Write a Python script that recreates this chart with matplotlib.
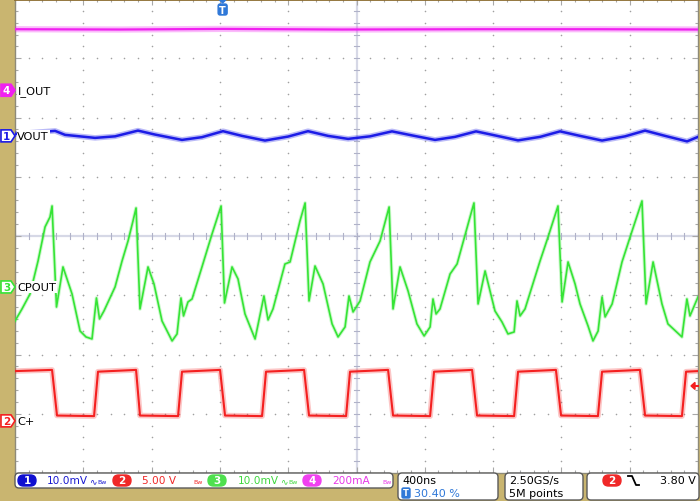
import numpy as np
import matplotlib
matplotlib.use("Agg")
import matplotlib.pyplot as plt
from matplotlib.patches import FancyBboxPatch, Polygon
from matplotlib.transforms import IdentityTransform

# ---- scope settings ----
t_div = 400.0            # ns/div
trig_pos = 0.304         # trigger position (fraction of screen)
ch_scale = {"1": 10.0, "2": 5.00, "3": 10.0, "4": 200.0}   # per div
ch_offset = {"1": 1.69, "2": -3.12, "3": -0.86, "4": 2.46}  # ground level, div
ch_name = {"1": "VOUT", "2": "C+", "3": "CPOUT", "4": "I_OUT"}
ch_color = {"1": "#1c1ce6", "2": "#f42020", "3": "#36e436", "4": "#f020f0"}

# ---- traces (time in ns) ----
# CH4 I_OUT, mA
iout_t = [-1216, -600, 0, 700, 1500, 2200, 2784]
iout_v = [206, 205, 207, 205, 206, 206, 205]

# CH1 VOUT ripple, mV
vout_t = [-1216, -981, -923, -747, -630, -496, -396, -238, -121, 2, 113, 248, 383,
          500, 617, 735, 863, 992, 1109, 1244, 1361, 1484, 1595, 1730, 1859, 1976,
          2093, 2222, 2357, 2474, 2591, 2720, 2784]
vout_v = [0.34, 0.84, 0.17, -0.34, -0.08, 0.89, 0.22, -0.68, -0.22, 0.79, 0.0, -0.79,
          -0.12, 0.79, 0.0, -0.51, -0.08, 0.76, 0.08, -0.68, -0.17, 0.76, 0.08, -0.76,
          -0.17, 0.76, 0.0, -0.79, -0.08, 0.89, 0.0, -0.93, -0.17]

# CH3 CPOUT ripple, mV
cp_t = [-1216, -1175, -1128, -1081, -1040, -1011, -999, -973, -935, -882, -835, -800,
        -765, -739, -721, -695, -630, -589, -554, -525, -507, -484, -437, -402, -355,
        -296, -267, -244, -229, -203, -179, -121, -62, -9, 11, 55, 90, 131, 190, 242,
        266, 295, 365, 395, 453, 483, 506, 541, 588, 641, 676, 717, 740, 764, 805, 863,
        922, 975, 998, 1039, 1086, 1138, 1180, 1215, 1232, 1250, 1273, 1332, 1373,
        1449, 1472, 1496, 1537, 1566, 1595, 1636, 1671, 1707, 1724, 1742, 1771, 1859,
        1906, 1964, 1988, 2023, 2064, 2093, 2140, 2169, 2199, 2222, 2240, 2281, 2339,
        2398, 2456, 2480, 2521, 2573, 2608, 2690, 2719, 2737, 2784]
cp_v = [-5.74, -3.71, -1.18, 4.39, 10.13, 11.81, 13.67, -3.38, 3.38, -1.18, -7.43,
        -8.44, -8.78, -1.86, -5.40, -4.05, 0.0, 4.39, 7.76, 11.14, 13.33, -3.71, 3.38,
        0.51, -5.74, -9.11, -7.93, -1.86, -4.89, -2.53, -2.03, 3.38, 8.95, 13.67,
        -2.70, 3.38, 1.35, -4.56, -8.78, -1.52, -5.57, -3.71, 3.88, 4.22, 11.14,
        14.18, -2.36, 3.54, 0.51, -6.24, -8.44, -6.75, -1.52, -4.22, -2.36, 4.22,
        7.76, 13.50, -3.71, 3.38, -0.68, -6.24, -8.27, -6.75, -2.03, -4.56, -3.71,
        2.19, 3.88, 11.81, 14.18, -2.87, 2.70, -0.68, -4.05, -5.91, -7.93, -7.60,
        -2.36, -4.89, -3.71, 4.39, 8.44, 13.67, -2.53, 4.22, 0.51, -2.87, -6.58,
        -9.11, -7.43, -1.69, -5.06, -2.87, 4.22, 9.45, 14.52, -2.87, 4.22, -2.87,
        -6.24, -8.44, -2.03, -4.89, -1.69]

# CH2 C+ switching node, V
cp_sw_t = [-1216, -999, -970, -753, -730, -507, -484, -261, -238, -15, 14, 231, 254,
           477, 506, 723, 746, 969, 998, 1215, 1238, 1461, 1490, 1707, 1730, 1952,
           1982, 2198, 2222, 2444, 2474, 2690, 2714, 2784]
cp_sw_v = [4.20, 4.30, 0.45, 0.40, 4.15, 4.30, 0.45, 0.40, 4.15, 4.30, 0.45, 0.40,
           4.15, 4.30, 0.45, 0.40, 4.15, 4.30, 0.45, 0.40, 4.15, 4.30, 0.45, 0.40,
           4.15, 4.30, 0.45, 0.40, 4.15, 4.30, 0.45, 0.40, 4.15, 4.20]
trig_arrow_v = 2.95

khaki = "#c9b570"
W, H = 700, 502

fig = plt.figure(figsize=(7, 5.02), dpi=100, facecolor=khaki)
ax = fig.add_axes([15 / W, 28 / H, 683 / W, 474 / H])
ax.set_facecolor("white")

x0 = -trig_pos * 10 * t_div
x1 = x0 + 10 * t_div
ax.set_xlim(x0, x1)
ax.set_ylim(-4, 4)

# graticule
xmaj = x0 + np.arange(11) * t_div
xmin = x0 + np.arange(51) * t_div / 5
ymaj = np.arange(-4, 5)
ymin = np.arange(-20, 21) / 5
xc = x0 + 5 * t_div
for xv in xmaj[1:-1]:
    if xv != xc:
        ax.scatter(np.full(len(ymin), xv), ymin, s=1.3, c="#a0a0a0", lw=0, zorder=1)
for yv in ymaj[1:-1]:
    if yv != 0:
        ax.scatter(xmin, np.full(len(xmin), yv), s=1.3, c="#a0a0a0", lw=0, zorder=1)
ax.axhline(0, color="#d6d8e6", lw=1.6, zorder=1)
ax.axvline(xc, color="#d6d8e6", lw=1.6, zorder=1)
for xv in xmin:
    ax.plot([xv, xv], [-0.05, 0.05], color="#b0b2c8", lw=0.8, zorder=1)
for yv in ymin:
    ax.plot([xc - 15, xc + 15], [yv, yv], color="#b0b2c8", lw=0.8, zorder=1)

ax.set_xticks(xmaj)
ax.set_xticks(xmin, minor=True)
ax.set_yticks(ymaj)
ax.set_yticks(ymin, minor=True)
ax.tick_params(which="both", direction="in", top=True, right=True,
               labelbottom=False, labelleft=False, color="#a8a8a8")
ax.tick_params(which="major", length=4, width=0.8)
ax.tick_params(which="minor", length=2.5, width=0.8)
for s in ["left", "right", "bottom"]:
    ax.spines[s].set_color("#8e8a78")
    ax.spines[s].set_linewidth(1)
ax.spines["top"].set_color("#8b6b2e")
ax.spines["top"].set_linewidth(2)


def screen(ch, vals):
    return ch_offset[ch] + np.asarray(vals, dtype=float) / ch_scale[ch]


traces = [("4", iout_t, iout_v, 4.5, 1.6, 0.3),
          ("1", vout_t, vout_v, 4.0, 1.8, 0.3),
          ("3", cp_t, cp_v, 2.6, 1.2, 0.25),
          ("2", cp_sw_t, cp_sw_v, 4.0, 1.5, 0.25)]
for ch, tt, vv, band, core, a in traces:
    y = screen(ch, vv)
    ax.plot(tt, y, color=ch_color[ch], lw=band, alpha=a, zorder=3,
            solid_joinstyle="round")
    ax.plot(tt, y, color=ch_color[ch], lw=core, zorder=4)

# channel labels + ground markers
fig.canvas.draw()
for ch in ["4", "1", "3", "2"]:
    ax.text(0.0035, ch_offset[ch], ch_name[ch], transform=ax.get_yaxis_transform(),
            va="center", ha="left", fontsize=8.2, color="black", zorder=6,
            bbox=dict(boxstyle="square,pad=0.05", fc="white", ec="none"))
    gy = ax.transData.transform((0, ch_offset[ch]))[1]
    filled = ch == "4"
    poly = Polygon([(1, gy - 6), (11, gy - 6), (15, gy), (11, gy + 6), (1, gy + 6)],
                   closed=True, transform=IdentityTransform(),
                   fc=ch_color[ch] if filled else "white", ec=ch_color[ch], lw=1.2)
    fig.add_artist(poly)
    fig.text(6.5, gy, ch, transform=IdentityTransform(), ha="center", va="center",
             fontsize=7.5, fontweight="bold",
             color="white" if filled else ch_color[ch])

# trigger time marker (top)
tx, ty = ax.transData.transform((0, 4))
tcol = "#2f78d8"
fig.add_artist(Polygon([(tx - 4, ty), (tx + 4, ty), (tx, ty - 4)], closed=True,
                       transform=IdentityTransform(), fc=tcol, ec=tcol))
fig.add_artist(FancyBboxPatch((tx - 4.5, ty - 16), 9, 11,
                              boxstyle="round,pad=0,rounding_size=2",
                              transform=IdentityTransform(), fc=tcol, ec=tcol))
fig.text(tx, ty - 10.5, "T", transform=IdentityTransform(), ha="center", va="center",
         fontsize=7, fontweight="bold", color="white")

# trigger level arrow (right)
lx, ly = ax.transData.transform((x1, screen("2", [trig_arrow_v])[0]))
fig.add_artist(Polygon([(lx - 7, ly), (lx - 3, ly + 3.5), (lx - 3, ly - 3.5)],
                       closed=True, transform=IdentityTransform(),
                       fc=ch_color["2"], ec=ch_color["2"]))
fig.add_artist(plt.Line2D([lx - 3, lx], [ly, ly], transform=IdentityTransform(),
                          color=ch_color["2"], lw=1.5))


# ---- status bar ----
def box(xa, ya, xb, yb):
    fig.add_artist(FancyBboxPatch((xa, H - yb), xb - xa, yb - ya,
                                  boxstyle="round,pad=0,rounding_size=4",
                                  transform=IdentityTransform(), fc="white",
                                  ec="#5a5a5a", lw=1))


def badge(xa, xb, yc, txt, col):
    fig.add_artist(FancyBboxPatch((xa, H - yc - 5.5), xb - xa, 11,
                                  boxstyle="round,pad=0,rounding_size=5.5",
                                  transform=IdentityTransform(), fc=col, ec=col))
    fig.text((xa + xb) / 2, H - yc, txt, transform=IdentityTransform(), ha="center",
             va="center", fontsize=7.5, fontweight="bold", color="white")


def stext(x, y, s, col, size=8, ha="left"):
    fig.text(x, H - y, s, transform=IdentityTransform(), ha=ha, va="center",
             fontsize=size, color=col)


box(15, 474, 393, 489)
box(398, 474, 498, 501)
box(505, 474, 583, 501)
box(587, 474, 699, 501)

row = 481.5
badge(18, 36, row, "1", "#1010d0")
stext(47, row, "10.0mV", "#1a1ad0", size=7.6)
stext(89, row, "\u223f", "#1a1ad0", size=6.5)
stext(97, row + 1, "Bw", "#1a1ad0", size=4.5)
badge(113, 131, row, "2", "#f02828")
stext(142, row, "5.00 V", "#f02828", size=7.6)
stext(193, row + 1, "Bw", "#f02828", size=4.5)
badge(208, 226, row, "3", "#4ee04e")
stext(238, row, "10.0mV", "#3ed83e", size=7.6)
stext(280, row, "\u223f", "#3ed83e", size=6.5)
stext(288, row + 1, "Bw", "#3ed83e", size=4.5)
badge(303, 321, row, "4", "#f040f0")
stext(332, row, "200mA", "#e838e8", size=7.6)
stext(382, row + 1, "Bw", "#e838e8", size=4.5)

stext(402, row, "400ns", "black")
fig.add_artist(FancyBboxPatch((402, H - 499), 8, 10,
                              boxstyle="round,pad=0,rounding_size=1.5",
                              transform=IdentityTransform(), fc=tcol, ec=tcol))
fig.text(406, H - 494, "T", transform=IdentityTransform(), ha="center", va="center",
         fontsize=6, fontweight="bold", color="white")
stext(414, 494, "30.40 %", tcol)

stext(509, row, "2.50GS/s", "black")
stext(509, 494, "5M points", "black")

badge(603, 621, row, "2", "#f02828")
fig.add_artist(plt.Line2D([628, 632, 636, 639], [H - 477, H - 477, H - 486, H - 486],
                          transform=IdentityTransform(), color="black", lw=1.3))
stext(696, row, "3.80 V", "black", ha="right")

fig.savefig("out.png", dpi=100, facecolor=khaki)
